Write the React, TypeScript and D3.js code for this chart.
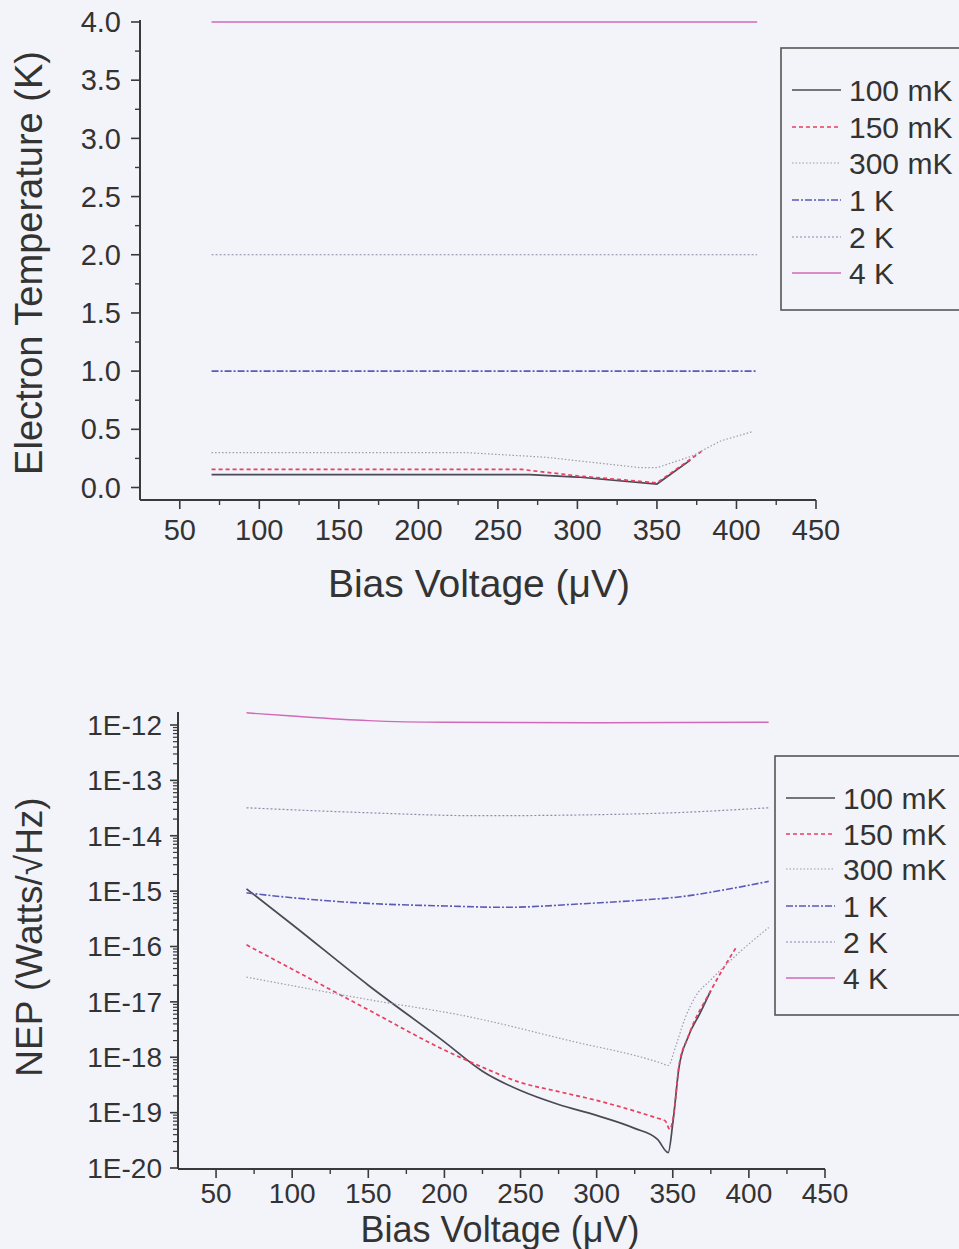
import React from 'react';
import * as d3 from 'd3';

// ---------- data ----------
const seriesNames = ['100 mK', '150 mK', '300 mK', '1 K', '2 K', '4 K'];
const xTickValues = [50, 100, 150, 200, 250, 300, 350, 400, 450];
const xMinorValues = [75, 125, 175, 225, 275, 325, 375, 425];
const tempTickValues = [0, 0.5, 1, 1.5, 2, 2.5, 3, 3.5, 4];
const tempTickLabels = ['0.0', '0.5', '1.0', '1.5', '2.0', '2.5', '3.0', '3.5', '4.0'];
const tempMinorValues = [0.25, 0.75, 1.25, 1.75, 2.25, 2.75, 3.25, 3.75];
const nepTickValues = [1e-12, 1e-13, 1e-14, 1e-15, 1e-16, 1e-17, 1e-18, 1e-19, 1e-20];
const nepTickLabels = ['1E-12', '1E-13', '1E-14', '1E-15', '1E-16', '1E-17', '1E-18', '1E-19', '1E-20'];

// Electron temperature (K) vs bias (µV)
const temp100x = [70, 150, 270, 300, 350, 371];
const temp100y = [0.11, 0.11, 0.11, 0.09, 0.03, 0.235];
const temp150x = [70, 150, 265, 300, 350, 378];
const temp150y = [0.155, 0.155, 0.155, 0.1, 0.04, 0.31];
const temp300x = [70, 150, 230, 280, 340, 350, 372, 390, 410];
const temp300y = [0.3, 0.3, 0.3, 0.26, 0.17, 0.17, 0.27, 0.4, 0.48];
const temp1Kx = [70, 150, 250, 350, 413];
const temp1Ky = [1.0, 1.0, 1.0, 1.0, 1.0];
const temp2Kx = [70, 150, 250, 350, 413];
const temp2Ky = [2.0, 2.0, 2.0, 2.0, 2.0];
const temp4Kx = [70, 150, 250, 350, 413];
const temp4Ky = [4.0, 4.0, 4.0, 4.0, 4.0];

// NEP (W/√Hz) vs bias (µV)
const nep100x = [70, 100, 150, 200, 225, 250, 275, 300, 325, 340, 347, 350, 354, 360, 368, 375];
const nep100y = [1.1e-15, 2.5e-16, 2.0e-17, 1.9e-18, 5.6e-19, 2.5e-19, 1.4e-19, 8.9e-20, 5.2e-20, 3.3e-20, 1.9e-20, 6.3e-20, 6.3e-19, 2.3e-18, 6.3e-18, 1.6e-17];
const nep150x = [70, 100, 150, 200, 225, 250, 275, 300, 325, 340, 345, 348, 351, 354, 360, 375, 392];
const nep150y = [1.07e-16, 3.9e-17, 7.2e-18, 1.35e-18, 6.6e-19, 3.5e-19, 2.4e-19, 1.66e-19, 1.07e-19, 7.9e-20, 7.1e-20, 5.0e-20, 1.1e-19, 6.8e-19, 2.3e-18, 1.6e-17, 1.0e-16];
const nep300x = [70, 150, 216, 282, 342, 347, 352, 358, 365, 375, 392, 413];
const nep300y = [2.8e-17, 1.1e-17, 5.4e-18, 2.0e-18, 7.9e-19, 7.1e-19, 1.6e-18, 5.0e-18, 1.26e-17, 2.5e-17, 7.1e-17, 2.2e-16];
const nep1Kx = [70, 100, 150, 200, 240, 290, 330, 355, 385, 413];
const nep1Ky = [9.3e-16, 7.6e-16, 6.0e-16, 5.4e-16, 5.1e-16, 5.9e-16, 6.9e-16, 7.9e-16, 1.07e-15, 1.5e-15];
const nep2Kx = [70, 150, 223, 300, 350, 413];
const nep2Ky = [3.2e-14, 2.6e-14, 2.3e-14, 2.4e-14, 2.6e-14, 3.2e-14];
const nep4Kx = [70, 100, 150, 200, 300, 413];
const nep4Ky = [1.66e-12, 1.45e-12, 1.2e-12, 1.12e-12, 1.1e-12, 1.12e-12];

const tempX = [temp100x, temp150x, temp300x, temp1Kx, temp2Kx, temp4Kx];
const tempY = [temp100y, temp150y, temp300y, temp1Ky, temp2Ky, temp4Ky];
const nepX = [nep100x, nep150x, nep300x, nep1Kx, nep2Kx, nep4Kx];
const nepY = [nep100y, nep150y, nep300y, nep1Ky, nep2Ky, nep4Ky];

// ---------- styles ----------
const colors = ['#4a4a55', '#e8405e', '#9c9cab', '#5a5ab8', '#8c8cab', '#d06ab8'];
const dashes = ['none', '4,3', '1.5,2', '7,2,2,2', '2,2', 'none'];
const widths = [1.7, 1.7, 1.2, 1.6, 1.2, 1.4];
const FONT = '"Liberation Sans", Arial, Helvetica, sans-serif';
const AXIS = '#3a3a3a';
const TEXT = '#333';

function zip(xs: number[], ys: number[]): [number, number][] {
  return xs.map((x, i) => [x, ys[i]]);
}

function Legend({ left, top, bottom, rowYs }: { left: number; top: number; bottom: number; rowYs: number[] }) {
  return (
    <g>
      <rect x={left} y={top} width={959 - left + 20} height={bottom - top} fill="none" stroke="#555" strokeWidth={1.6} />
      {seriesNames.map((name, i) => (
        <g key={name}>
          <line x1={left + 11} x2={left + 60} y1={rowYs[i]} y2={rowYs[i]} stroke={colors[i]} strokeWidth={widths[i]} strokeDasharray={dashes[i]} />
          <text x={left + 68} y={rowYs[i]} dy="0.35em" fontSize={30} fill={TEXT} fontFamily={FONT}>{name}</text>
        </g>
      ))}
    </g>
  );
}

export default function App() {
  // ---------- top chart ----------
  const tx = d3.scaleLinear().domain([25, 450]).range([140, 816]);
  const ty = d3.scaleLinear().domain([0, 4]).range([487.5, 22]);
  const tAxisY = 500;
  const tAxisTop = 20;
  const tLine = d3.line<[number, number]>().x(d => tx(d[0])).y(d => ty(d[1]));

  // ---------- bottom chart ----------
  const bx = d3.scaleLinear().domain([25, 450]).range([178, 825]);
  const by = d3.scaleLog().domain([1e-20, 1e-12]).range([1168, 725]);
  const bAxisY = 1169;
  const bAxisTop = 712;
  const bLine = d3.line<[number, number]>().x(d => bx(d[0])).y(d => by(d[1])).curve(d3.curveMonotoneX);

  const logMinor: number[] = [];
  for (let e = -20; e < -11; e++) {
    for (let m = 2; m <= 9; m++) {
      const v = m * Math.pow(10, e);
      if (by(v) >= bAxisTop) logMinor.push(v);
    }
  }

  return (
    <svg width={959} height={1249} style={{ position: 'absolute', left: 0, top: 0, background: '#f3f3fa' }}>
      <rect x={0} y={0} width={959} height={1249} fill="#f3f3fa" />

      {/* ===== Top chart ===== */}
      <g>
        {tempX.map((xs, i) => (
          <path key={i} d={tLine(zip(xs, tempY[i])) || ''} fill="none" stroke={colors[i]} strokeWidth={widths[i]} strokeDasharray={dashes[i]} />
        ))}
        <line x1={tx(25)} x2={tx(25)} y1={tAxisTop} y2={tAxisY} stroke={AXIS} strokeWidth={2} />
        <line x1={tx(25)} x2={tx(450)} y1={tAxisY} y2={tAxisY} stroke={AXIS} strokeWidth={2} />
        {tempTickValues.map((v, i) => (
          <g key={v}>
            <line x1={tx(25) - 9} x2={tx(25)} y1={ty(v)} y2={ty(v)} stroke={AXIS} strokeWidth={1.6} />
            <text x={121} y={ty(v)} dy="0.35em" textAnchor="end" fontSize={29} fill={TEXT} fontFamily={FONT}>{tempTickLabels[i]}</text>
          </g>
        ))}
        {tempMinorValues.map(v => (
          <line key={v} x1={tx(25) - 5} x2={tx(25)} y1={ty(v)} y2={ty(v)} stroke={AXIS} strokeWidth={1.4} />
        ))}
        {xTickValues.map(v => (
          <g key={v}>
            <line x1={tx(v)} x2={tx(v)} y1={tAxisY} y2={tAxisY + 9} stroke={AXIS} strokeWidth={1.6} />
            <text x={tx(v)} y={540} textAnchor="middle" fontSize={29} fill={TEXT} fontFamily={FONT}>{v}</text>
          </g>
        ))}
        {xMinorValues.map(v => (
          <line key={v} x1={tx(v)} x2={tx(v)} y1={tAxisY} y2={tAxisY + 5} stroke={AXIS} strokeWidth={1.4} />
        ))}
        <text x={479} y={597} textAnchor="middle" fontSize={39} fill={TEXT} fontFamily={FONT}>Bias Voltage (μV)</text>
        <text transform="translate(42,263) rotate(-90)" textAnchor="middle" fontSize={38} fill={TEXT} fontFamily={FONT}>Electron Temperature (K)</text>
        <Legend left={781} top={48} bottom={310} rowYs={[90, 127, 163, 200, 237, 273]} />
      </g>

      {/* ===== Bottom chart ===== */}
      <g>
        {nepX.map((xs, i) => (
          <path key={i} d={bLine(zip(xs, nepY[i])) || ''} fill="none" stroke={colors[i]} strokeWidth={widths[i]} strokeDasharray={dashes[i]} />
        ))}
        <line x1={bx(25)} x2={bx(25)} y1={bAxisTop} y2={bAxisY} stroke={AXIS} strokeWidth={2} />
        <line x1={bx(25)} x2={bx(450)} y1={bAxisY} y2={bAxisY} stroke={AXIS} strokeWidth={2} />
        {nepTickValues.map((v, i) => (
          <g key={i}>
            <line x1={bx(25) - 8} x2={bx(25)} y1={by(v)} y2={by(v)} stroke={AXIS} strokeWidth={1.6} />
            <text x={162} y={by(v)} dy="0.35em" textAnchor="end" fontSize={28} fill={TEXT} fontFamily={FONT}>{nepTickLabels[i]}</text>
          </g>
        ))}
        {logMinor.map((v, i) => (
          <line key={i} x1={bx(25) - 5} x2={bx(25)} y1={by(v)} y2={by(v)} stroke={AXIS} strokeWidth={1.2} />
        ))}
        {xTickValues.map(v => (
          <g key={v}>
            <line x1={bx(v)} x2={bx(v)} y1={bAxisY} y2={bAxisY + 9} stroke={AXIS} strokeWidth={1.6} />
            <text x={bx(v)} y={1203} textAnchor="middle" fontSize={28} fill={TEXT} fontFamily={FONT}>{v}</text>
          </g>
        ))}
        {xMinorValues.map(v => (
          <line key={v} x1={bx(v)} x2={bx(v)} y1={bAxisY} y2={bAxisY + 5} stroke={AXIS} strokeWidth={1.4} />
        ))}
        <text x={500} y={1242} textAnchor="middle" fontSize={36} fill={TEXT} fontFamily={FONT}>Bias Voltage (μV)</text>
        <text transform="translate(42,937) rotate(-90)" textAnchor="middle" fontSize={37} fill={TEXT} fontFamily={FONT}>NEP (Watts/√Hz)</text>
        <Legend left={775} top={756} bottom={1015} rowYs={[798, 834, 869, 906, 942, 978]} />
      </g>
    </svg>
  );
}
